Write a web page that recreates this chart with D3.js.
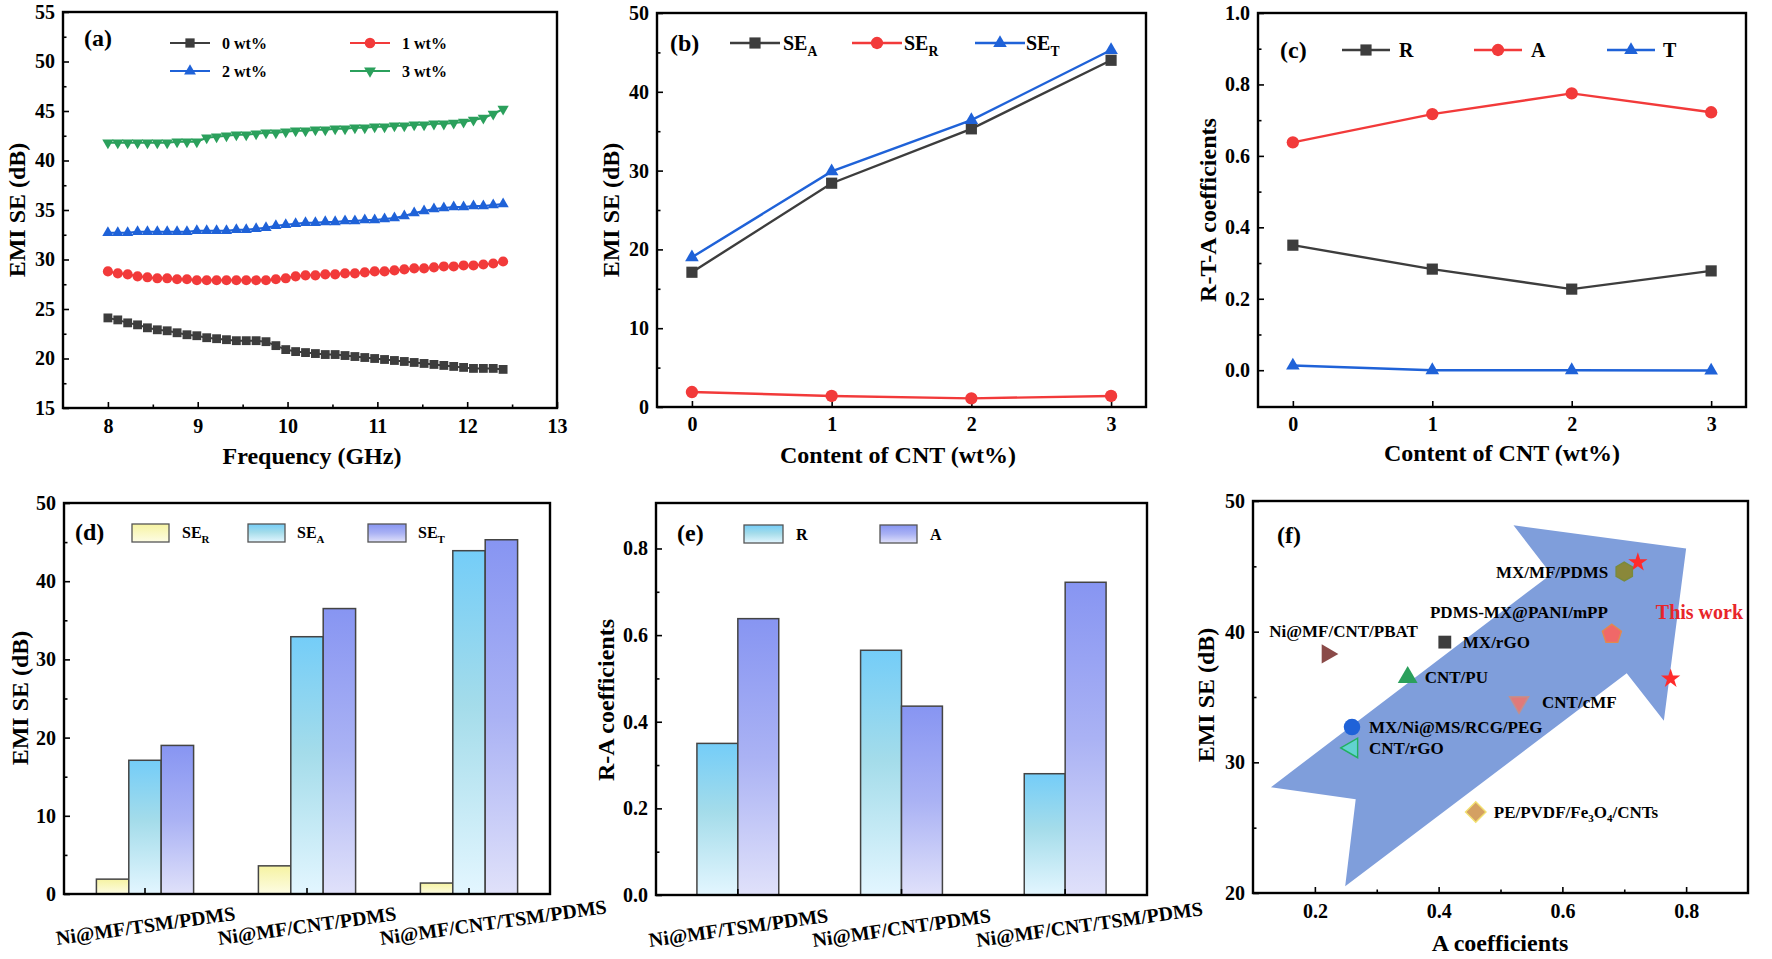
<!DOCTYPE html>
<html><head><meta charset="utf-8">
<script src="https://cdn.jsdelivr.net/npm/d3@7"></script>
<style>
html,body{margin:0;padding:0;background:#fff;}
svg{display:block;}
</style></head><body>
<svg id="fig" width="1772" height="959"></svg>
<script>
// ---------------- DATA ----------------
const freqGHz = [8.00,8.11,8.22,8.33,8.44,8.55,8.66,8.77,8.88,8.99,9.10,9.21,9.32,9.43,9.54,9.65,9.76,9.87,9.98,10.09,
  10.20,10.31,10.42,10.53,10.64,10.75,10.86,10.97,11.08,11.19,11.30,11.41,11.52,11.63,11.74,11.85,11.96,12.07,12.18,12.29,12.40];
const se0wt = [24.1,23.9,23.6,23.4,23.1,22.9,22.8,22.6,22.4,22.3,22.1,22.0,21.9,21.8,21.8,21.8,21.7,21.3,20.9,20.7,
  20.6,20.5,20.4,20.4,20.3,20.2,20.1,20.0,19.9,19.8,19.7,19.6,19.5,19.4,19.3,19.2,19.1,19.0,19.0,19.0,18.9];
const se1wt = [28.8,28.6,28.5,28.3,28.2,28.1,28.1,28.0,28.0,27.9,27.9,27.9,27.9,27.9,27.9,27.9,27.9,28.0,28.1,28.3,
  28.4,28.4,28.5,28.5,28.6,28.6,28.7,28.8,28.8,28.9,29.0,29.1,29.1,29.2,29.3,29.3,29.4,29.4,29.5,29.6,29.8];
const se2wt = [32.7,32.7,32.7,32.8,32.8,32.8,32.8,32.8,32.8,32.9,32.9,32.9,32.9,33.0,33.0,33.1,33.2,33.4,33.5,33.6,
  33.7,33.7,33.8,33.8,33.9,33.9,34.0,34.0,34.1,34.2,34.4,34.7,34.9,35.1,35.2,35.3,35.3,35.4,35.4,35.5,35.6];
const se3wt = [41.8,41.8,41.8,41.8,41.8,41.8,41.8,41.9,41.9,41.9,42.3,42.4,42.5,42.6,42.6,42.7,42.8,42.8,42.9,43.0,
  43.0,43.1,43.1,43.2,43.2,43.3,43.3,43.4,43.4,43.5,43.5,43.6,43.6,43.7,43.7,43.8,43.9,44.1,44.3,44.7,45.2];
const seriesNamesA = ["0 wt%","1 wt%","2 wt%","3 wt%"];

const cntContent = [0,1,2,3];
const seA = [17.1,28.4,35.3,44.0];
const seR = [1.9,1.4,1.1,1.4];
const seT = [19.0,29.9,36.4,45.3];

const coefR = [0.350,0.283,0.227,0.278];
const coefA = [0.638,0.717,0.775,0.722];
const coefT = [0.013,0.000,0.000,-0.001];

const samples = ["Ni@MF/TSM/PDMS","Ni@MF/CNT/PDMS","Ni@MF/CNT/TSM/PDMS"];
const barSER = [1.9,3.6,1.4];
const barSEA = [17.1,32.9,43.9];
const barSET = [19.0,36.5,45.3];
const barR = [0.350,0.565,0.280];
const barA = [0.638,0.436,0.722];

const compNames = ["This work","This work","MX/MF/PDMS","PDMS-MX@PANI/mPP","MX/rGO","Ni@MF/CNT/PBAT","CNT/PU","CNT/cMF","MX/Ni@MS/RCG/PEG","CNT/rGO","PE/PVDF/Fe3O4/CNTs"];
const compA  = [0.722,0.775,0.700,0.680,0.410,0.220,0.350,0.530,0.260,0.260,0.460];
const compSE = [45.3,36.4,44.6,39.8,39.2,38.3,36.5,34.6,32.7,31.1,26.2];
// trend arrow outline (A coefficient, EMI SE)
const arrowA  = [0.129,0.582,0.521,0.800,0.764,0.704,0.249,0.266];
const arrowSE = [28.10,44.40,48.14,46.36,33.19,36.81,20.51,27.18];

const xTicksA = [8,9,10,11,12,13];
const yTicksA = [15,20,25,30,35,40,45,50,55];

// ---------------- SETUP ----------------
const FONT = '"Liberation Serif","Times New Roman",serif';
const svg = d3.select("#fig").attr("font-family",FONT).attr("font-weight","bold");
svg.append("rect").attr("width",1772).attr("height",959).attr("fill","#fff");
const defs = svg.append("defs");
function grad(id, stops){
  const g = defs.append("linearGradient").attr("id",id).attr("x1",0).attr("y1",0).attr("x2",0).attr("y2",1);
  stops.forEach(([o,c])=>g.append("stop").attr("offset",o).attr("stop-color",c));
}
grad("gY",[["0%","#f6f3a2"],["100%","#fdfce4"]]);
grad("gB",[["0%","#74cdf8"],["45%","#a4dcea"],["100%","#e3f6ff"]]);
grad("gP",[["0%","#8795f2"],["50%","#aab2f4"],["100%","#e0e1fa"]]);

const C = {k:"#3d3d3d", r:"#f23a3a", b:"#1f62d8", g:"#2ba05c"};

function styleAxis(sel){
  sel.attr("font-family",FONT).attr("font-size",20).attr("font-weight","bold");
  sel.select(".domain").remove();
  sel.selectAll(".tick line").attr("stroke","#000").attr("stroke-width",1.6);
  sel.selectAll(".tick text").attr("fill","#000");
}
function axes(g,o,x,y){
  const bx = d3.axisBottom(x).tickSizeInner(-6).tickSizeOuter(0).tickPadding(o.xpad||11);
  if(o.xt) bx.tickValues(o.xt);
  if(o.xf) bx.tickFormat(o.xf);
  g.append("g").attr("transform",`translate(0,${o.b})`).call(bx).call(styleAxis);
  if(o.xm) g.append("g").attr("transform",`translate(0,${o.b})`)
    .call(d3.axisBottom(x).tickValues(o.xm).tickFormat("").tickSizeInner(-3.5).tickSizeOuter(0)).call(styleAxis);
  const ly = d3.axisLeft(y).tickValues(o.yt).tickSizeInner(-6).tickSizeOuter(0).tickPadding(8);
  if(o.yf) ly.tickFormat(o.yf);
  g.append("g").attr("transform",`translate(${o.l},0)`).call(ly).call(styleAxis);
  if(o.ym) g.append("g").attr("transform",`translate(${o.l},0)`)
    .call(d3.axisLeft(y).tickValues(o.ym).tickFormat("").tickSizeInner(-3.5).tickSizeOuter(0)).call(styleAxis);
  g.append("rect").attr("x",o.l).attr("y",o.t).attr("width",o.r-o.l).attr("height",o.b-o.t)
    .attr("fill","none").attr("stroke","#000").attr("stroke-width",2.4);
}
function yTitle(g,txt,cx,cy){
  g.append("text").attr("transform",`translate(${cx},${cy}) rotate(-90)`).attr("text-anchor","middle")
    .attr("dy","0.35em").attr("font-size",24).text(txt);
}
function xTitle(g,txt,cx,by){
  g.append("text").attr("x",cx).attr("y",by).attr("text-anchor","middle").attr("font-size",24).text(txt);
}
function tag(g,txt,x,y){ g.append("text").attr("x",x).attr("y",y).attr("font-size",24).text(txt); }
function subLabel(g,x,y,main,sub,size){
  const t = g.append("text").attr("x",x).attr("y",y).attr("font-size",size);
  t.append("tspan").text(main);
  t.append("tspan").attr("font-size",size*0.68).attr("dy",size*0.32).text(sub);
  return t;
}
const sq = d3.symbolSquare, ci = d3.symbolCircle, tr = d3.symbolTriangle;

// ---------------- (a) ----------------
{
  const o = {l:63,r:557,t:12,b:408};
  const g = svg.append("g");
  const x = d3.scaleLinear().domain([7.5,13]).range([o.l,o.r]);
  const y = d3.scaleLinear().domain([15,55]).range([o.b,o.t]);
  axes(g,{...o,xt:xTicksA,xf:d3.format("d"),xm:[8.5,9.5,10.5,11.5,12.5],yt:yTicksA,ym:[17.5,22.5,27.5,32.5,37.5,42.5,47.5,52.5]},x,y);
  const defsA = [
    {v:se0wt,c:C.k,s:sq,size:78,rot:0},
    {v:se1wt,c:C.r,s:ci,size:80,rot:0},
    {v:se2wt,c:C.b,s:tr,size:55,rot:0},
    {v:se3wt,c:C.g,s:tr,size:55,rot:180}
  ];
  defsA.forEach(d=>{
    const pts = freqGHz.map((f,i)=>[f,d.v[i]]);
    g.append("path").attr("d",d3.line().x(p=>x(p[0])).y(p=>y(p[1]))(pts))
      .attr("fill","none").attr("stroke",d.c).attr("stroke-width",2);
    g.selectAll(null).data(pts).join("path")
      .attr("transform",p=>`translate(${x(p[0])},${y(p[1])}) rotate(${d.rot})`)
      .attr("d",d3.symbol().type(d.s).size(d.size)).attr("fill",d.c);
  });
  // legend
  const lg = [[170,43],[350,43],[170,71],[350,71]];
  defsA.forEach((d,i)=>{
    const [lx,ly] = lg[i];
    g.append("line").attr("x1",lx).attr("x2",lx+40).attr("y1",ly).attr("y2",ly).attr("stroke",d.c).attr("stroke-width",2.2);
    g.append("path").attr("transform",`translate(${lx+20},${ly}) rotate(${d.rot})`)
      .attr("d",d3.symbol().type(d.s).size(d.size*1.1)).attr("fill",d.c);
    g.append("text").attr("x",lx+52).attr("y",ly+6).attr("font-size",16).text(seriesNamesA[i]);
  });
  tag(g,"(a)",84,46);
  yTitle(g,"EMI SE (dB)",17,210);
  xTitle(g,"Frequency (GHz)",312,464);
}

// ---------------- (b) ----------------
{
  const o = {l:657,r:1146,t:13,b:407};
  const g = svg.append("g");
  const x = d3.scaleLinear().domain([-0.25,3.25]).range([o.l,o.r]);
  const y = d3.scaleLinear().domain([0,50]).range([o.b,o.t]);
  axes(g,{...o,xt:cntContent,xf:d3.format("d"),xpad:10,yt:[0,10,20,30,40,50],ym:[5,15,25,35,45]},x,y);
  const S = [
    {v:seA,c:C.k,s:sq,size:125,rot:0,lab:["SE","A"],lx:730,tx:783},
    {v:seR,c:C.r,s:ci,size:120,rot:0,lab:["SE","R"],lx:852,tx:904},
    {v:seT,c:C.b,s:tr,size:80,rot:0,lab:["SE","T"],lx:975,tx:1026}
  ];
  S.forEach(d=>{
    const pts = cntContent.map((c,i)=>[c,d.v[i]]);
    g.append("path").attr("d",d3.line().x(p=>x(p[0])).y(p=>y(p[1]))(pts))
      .attr("fill","none").attr("stroke",d.c).attr("stroke-width",2.4);
    g.selectAll(null).data(pts).join("path")
      .attr("transform",p=>`translate(${x(p[0])},${y(p[1])})`)
      .attr("d",d3.symbol().type(d.s).size(d.size)).attr("fill",d.c);
    g.append("line").attr("x1",d.lx).attr("x2",d.lx+50).attr("y1",43).attr("y2",43).attr("stroke",d.c).attr("stroke-width",2.4);
    g.append("path").attr("transform",`translate(${d.lx+25},43)`).attr("d",d3.symbol().type(d.s).size(d.size)).attr("fill",d.c);
    subLabel(g,d.tx,50,d.lab[0],d.lab[1],20);
  });
  tag(g,"(b)",670,51);
  yTitle(g,"EMI SE (dB)",611,210);
  xTitle(g,"Content of CNT (wt%)",898,463);
}

// ---------------- (c) ----------------
{
  const o = {l:1258,r:1746,t:13,b:407};
  const g = svg.append("g");
  const x = d3.scaleLinear().domain([-0.25,3.25]).range([o.l,o.r]);
  const y = d3.scaleLinear().domain([-0.103,1.0]).range([o.b,o.t]);
  axes(g,{...o,xt:cntContent,xf:d3.format("d"),xpad:10,yt:[0,0.2,0.4,0.6,0.8,1.0],yf:d3.format(".1f"),ym:[0.1,0.3,0.5,0.7,0.9]},x,y);
  const S = [
    {v:coefR,c:C.k,s:sq,size:125,lab:"R",lx:1342,tx:1399},
    {v:coefA,c:C.r,s:ci,size:120,lab:"A",lx:1474,tx:1531},
    {v:coefT,c:C.b,s:tr,size:80,lab:"T",lx:1607,tx:1663}
  ];
  S.forEach(d=>{
    const pts = cntContent.map((c,i)=>[c,d.v[i]]);
    g.append("path").attr("d",d3.line().x(p=>x(p[0])).y(p=>y(p[1]))(pts))
      .attr("fill","none").attr("stroke",d.c).attr("stroke-width",2.4);
    g.selectAll(null).data(pts).join("path")
      .attr("transform",p=>`translate(${x(p[0])},${y(p[1])})`)
      .attr("d",d3.symbol().type(d.s).size(d.size)).attr("fill",d.c);
    g.append("line").attr("x1",d.lx).attr("x2",d.lx+48).attr("y1",50).attr("y2",50).attr("stroke",d.c).attr("stroke-width",2.4);
    g.append("path").attr("transform",`translate(${d.lx+24},50)`).attr("d",d3.symbol().type(d.s).size(d.size)).attr("fill",d.c);
    g.append("text").attr("x",d.tx).attr("y",57).attr("font-size",20).text(d.lab);
  });
  tag(g,"(c)",1280,58);
  yTitle(g,"R-T-A coefficients",1208,210);
  xTitle(g,"Content of CNT (wt%)",1502,461);
}

// ---------------- bar helpers ----------------
function catLabels(g,x,baseY){
  samples.forEach(s=>{
    const cx = x(s)+x.bandwidth()/2 - 88;
    g.append("text").attr("transform",`translate(${cx},${baseY}) rotate(-8)`).attr("font-size",20).text(s);
  });
}
function boxLegend(g,items,y0){
  items.forEach(it=>{
    g.append("rect").attr("x",it.x).attr("y",y0).attr("width",it.w).attr("height",18)
      .attr("fill",it.fill).attr("stroke","#555").attr("stroke-width",1.3);
    if(it.sub) subLabel(g,it.tx,y0+14,it.main,it.sub,16);
    else g.append("text").attr("x",it.tx).attr("y",y0+15).attr("font-size",16).text(it.main);
  });
}

// ---------------- (d) ----------------
{
  const o = {l:64,r:550,t:503,b:894};
  const g = svg.append("g");
  const x = d3.scaleBand().domain(samples).range([o.l,o.r]).padding(0);
  const y = d3.scaleLinear().domain([0,50]).range([o.b,o.t]);
  const inner = d3.scaleBand().domain(["R","A","T"]).range([x.bandwidth()*0.2,x.bandwidth()*0.8]);
  const S = [{k:"R",v:barSER,f:"url(#gY)"},{k:"A",v:barSEA,f:"url(#gB)"},{k:"T",v:barSET,f:"url(#gP)"}];
  S.forEach(d=>{
    g.selectAll(null).data(samples).join("rect")
      .attr("x",(s)=>x(s)+inner(d.k)).attr("width",inner.bandwidth())
      .attr("y",(s,i)=>y(d.v[i])).attr("height",(s,i)=>y(0)-y(d.v[i]))
      .attr("fill",d.f).attr("stroke","#444").attr("stroke-width",1.5);
  });
  axes(g,{...o,xf:()=>"",yt:[0,10,20,30,40,50],ym:[5,15,25,35,45]},x,y);
  catLabels(g,x,945);
  boxLegend(g,[
    {x:132,w:37,fill:"url(#gY)",tx:182,main:"SE",sub:"R"},
    {x:248,w:37,fill:"url(#gB)",tx:297,main:"SE",sub:"A"},
    {x:368,w:38,fill:"url(#gP)",tx:418,main:"SE",sub:"T"}],524);
  tag(g,"(d)",75,540);
  yTitle(g,"EMI SE (dB)",20,698);
}

// ---------------- (e) ----------------
{
  const o = {l:656,r:1147,t:503,b:895};
  const g = svg.append("g");
  const x = d3.scaleBand().domain(samples).range([o.l,o.r]).padding(0);
  const y = d3.scaleLinear().domain([0,0.905]).range([o.b,o.t]);
  const inner = d3.scaleBand().domain(["R","A"]).range([x.bandwidth()*0.25,x.bandwidth()*0.75]);
  const S = [{k:"R",v:barR,f:"url(#gB)"},{k:"A",v:barA,f:"url(#gP)"}];
  S.forEach(d=>{
    g.selectAll(null).data(samples).join("rect")
      .attr("x",(s)=>x(s)+inner(d.k)).attr("width",inner.bandwidth())
      .attr("y",(s,i)=>y(d.v[i])).attr("height",(s,i)=>y(0)-y(d.v[i]))
      .attr("fill",d.f).attr("stroke","#444").attr("stroke-width",1.5);
  });
  axes(g,{...o,xf:()=>"",yt:[0,0.2,0.4,0.6,0.8],yf:d3.format(".1f"),ym:[0.1,0.3,0.5,0.7]},x,y);
  catLabels(g,x,947);
  boxLegend(g,[
    {x:744,w:39,fill:"url(#gB)",tx:796,main:"R"},
    {x:880,w:37,fill:"url(#gP)",tx:930,main:"A"}],525);
  tag(g,"(e)",677,541);
  yTitle(g,"R-A coefficients",606,700);
}

// ---------------- (f) ----------------
{
  const o = {l:1253,r:1748,t:501,b:893};
  const g = svg.append("g");
  const x = d3.scaleLinear().domain([0.1,0.9]).range([o.l,o.r]);
  const y = d3.scaleLinear().domain([20,50]).range([o.b,o.t]);
  // trend arrow
  const arr = arrowA.map((a,i)=>[a,arrowSE[i]]);
  g.append("path").attr("d",d3.line().x(p=>x(p[0])).y(p=>y(p[1])).curve(d3.curveLinearClosed)(arr))
    .attr("fill","#7f9edb");
  axes(g,{...o,xt:[0.2,0.4,0.6,0.8],xf:d3.format(".1f"),xm:[0.3,0.5,0.7],yt:[20,30,40,50],ym:[25,35,45]},x,y);
  const poly = n => ({draw(ctx,size){
    const r = Math.sqrt(size/(n/2*Math.sin(2*Math.PI/n)));
    for(let i=0;i<n;i++){const a=-Math.PI/2+i*2*Math.PI/n; const px=r*Math.cos(a), py=r*Math.sin(a); if(i) ctx.lineTo(px,py); else ctx.moveTo(px,py);}
    ctx.closePath();
  }});
  const mk = [
    {s:d3.symbolStar,size:115,rot:0,f:"#ff2b2b",st:"none"},
    {s:d3.symbolStar,size:115,rot:0,f:"#ff2b2b",st:"none"},
    {s:poly(6),size:230,rot:0,f:"#8a883a",st:"#7a8a3a"},
    {s:poly(5),size:240,rot:0,f:"#f06868",st:"#e08a50"},
    {s:sq,size:165,rot:0,f:"#3d3d3d",st:"none"},
    {s:tr,size:160,rot:90,f:"#8a4a48",st:"none"},
    {s:tr,size:170,rot:0,f:"#2ba05c",st:"none"},
    {s:tr,size:160,rot:180,f:"#e07a7a",st:"#c09090"},
    {s:ci,size:215,rot:0,f:"#1f62d8",st:"none"},
    {s:tr,size:165,rot:-90,f:"#62d2d0",st:"#22b060"},
    {s:sq,size:210,rot:45,f:"#d4a062",st:"#f2e070"}
  ];
  const labPos = [null,null,
    {dx:-16,dy:6,a:"end"},{dx:-4,dy:-16,a:"end"},{dx:18,dy:6,a:"start"},{dx:-58,dy:-17,a:"start"},
    {dx:17,dy:6,a:"start"},{dx:23,dy:6,a:"start"},{dx:17,dy:6,a:"start"},{dx:17,dy:6,a:"start"},{dx:18,dy:6,a:"start"}];
  compNames.forEach((n,i)=>{
    const px = x(compA[i]), py = y(compSE[i]);
    g.append("path").attr("transform",`translate(${px},${py}) rotate(${mk[i].rot})`)
      .attr("d",d3.symbol().type(mk[i].s).size(mk[i].size))
      .attr("fill",mk[i].f).attr("stroke",mk[i].st).attr("stroke-width",1.4);
    const lp = labPos[i]; if(!lp) return;
    const t = g.append("text").attr("x",px+lp.dx).attr("y",py+lp.dy).attr("text-anchor",lp.a).attr("font-size",17);
    if(n==="PE/PVDF/Fe3O4/CNTs"){
      t.append("tspan").text("PE/PVDF/Fe");
      t.append("tspan").attr("font-size",11).attr("dy",4).text("3");
      t.append("tspan").attr("dy",-4).text("O");
      t.append("tspan").attr("font-size",11).attr("dy",4).text("4");
      t.append("tspan").attr("dy",-4).text("/CNTs");
    } else t.text(n);
  });
  g.append("text").attr("x",x(0.751)).attr("y",y(40.97)).attr("font-size",20).attr("fill","#e8262a").text(compNames[0]);
  tag(g,"(f)",1277,543);
  yTitle(g,"EMI SE (dB)",1206,695);
  xTitle(g,"A coefficients",1500,951);
}
</script>
</body></html>
